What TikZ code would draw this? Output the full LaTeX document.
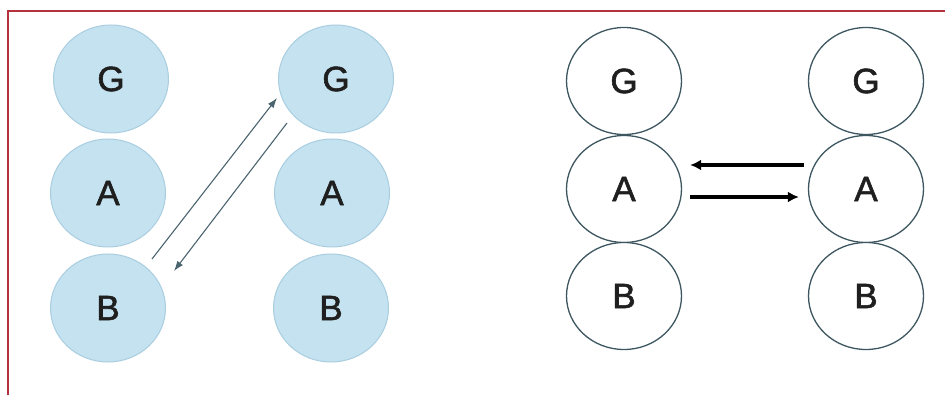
\documentclass[tikz,border=0pt]{standalone}
\usepackage{fontspec}
\setmainfont{Liberation Sans}
\newfontfamily\letterfont[FakeBold=1.6]{Liberation Sans}
\usetikzlibrary{arrows.meta,shapes.geometric}
\definecolor{framered}{HTML}{B3323C}
\definecolor{ballfill}{HTML}{C4E2F0}
\definecolor{balledge}{HTML}{A9CEE0}
\definecolor{ringedge}{HTML}{3D5660}
\definecolor{thinarrow}{HTML}{4A6470}
\tikzset{
  ball/.style={ellipse, draw=balledge, fill=ballfill, line width=1pt,
    minimum width=115pt, minimum height=108pt, inner sep=0pt,
    font=\letterfont\fontsize{35}{35}\selectfont, text=black!88},
  ring/.style={ellipse, draw=ringedge, fill=white, line width=1.3pt,
    minimum width=115pt, minimum height=107pt, inner sep=0pt,
    font=\letterfont\fontsize{35}{35}\selectfont, text=black!88},
  thinarr/.style={draw=thinarrow, line width=1.1pt, -{Latex[length=10pt,width=7pt]}},
  thickarr/.style={draw=black, line width=3.6pt, -{Latex[length=11pt,width=11pt]}}
}
\begin{document}
\begin{tikzpicture}[x=1pt,y=-1pt]
\useasboundingbox (0,0) rectangle (945,395);
\fill[white] (0,0) rectangle (945,395);
% outer frame (left and top edges visible)
\draw[framered, line width=1.5pt] (8,400) -- (8,11) -- (950,11);

% left panel: shaded balls
\node[ball] (lg1) at (111,79) {G};
\node[ball] (la1) at (108,193) {A};
\node[ball] (lb1) at (108,308) {B};
\node[ball] (lg2) at (336,79) {G};
\node[ball] (la2) at (332,193) {A};
\node[ball] (lb2) at (331,308) {B};
\coordinate (p1) at (152,259);
\coordinate (p2) at (277,98);
\coordinate (p3) at (287,123);
\coordinate (p4) at (174,271);
\draw[thinarr] (p1) -- (p2);
\draw[thinarr] (p3) -- (p4);

% right panel: open rings
\node[ring] (rg1) at (624,81) {G};
\node[ring] (ra1) at (624,189) {A};
\node[ring] (rb1) at (624,296) {B};
\node[ring] (rg2) at (866,81) {G};
\node[ring] (ra2) at (866,189) {A};
\node[ring] (rb2) at (866,296) {B};
\draw[thickarr] ([shift={(-4,-24)}]ra2.west) -- ([shift={(8,-24)}]ra1.east);
\draw[thickarr] ([shift={(8,8)}]ra1.east) -- ([shift={(-9,8)}]ra2.west);
\end{tikzpicture}
\end{document}
